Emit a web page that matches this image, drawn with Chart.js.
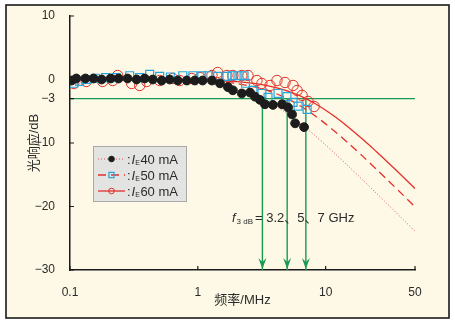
<!DOCTYPE html>
<html>
<head>
<meta charset="utf-8">
<script src="https://cdn.jsdelivr.net/npm/chart.js@4.4.0/dist/chart.umd.min.js"></script>
<style>
  html, body { margin: 0; padding: 0; background: #fff; }
  canvas { display: block; }
</style>
</head>
<body>
<canvas id="respChart" width="455" height="325"></canvas>
<script>
// axis ticks
var xTicks = [0.1, 1, 10, 50];
var yTicks = [10, 0, -3, -10, -20, -30];
var currents = [40, 50, 60];
var f3dB = [3.2, 5, 7];
var level3dB = -3;

var freq40 = [0.103, 0.112, 0.132, 0.153, 0.177, 0.208, 0.240, 0.282, 0.332, 0.384, 0.444, 0.522, 0.603, 0.697, 0.820, 0.947, 1.09, 1.29, 1.49, 1.72, 1.88, 2.21, 2.56, 2.80, 3.06, 3.35, 3.87, 4.56, 5.08, 5.46, 5.77, 6.78];
var resp40 = [-0.16, 0.16, 0.16, 0.16, 0.0, 0.16, 0.16, 0.16, 0.0, 0.16, 0.0, -0.16, 0.0, -0.16, -0.16, -0.16, -0.16, -0.16, -0.6, -1.2, -1.7, -2.2, -2.05, -2.7, -3.2, -3.9, -4.0, -3.9, -4.4, -5.5, -6.9, -7.5];

var freq50 = [0.107, 0.119, 0.134, 0.158, 0.190, 0.230, 0.293, 0.350, 0.420, 0.503, 0.610, 0.763, 0.914, 1.075, 1.198, 1.43, 1.69, 1.85, 2.06, 2.30, 2.36, 2.70, 3.17, 3.54, 4.24, 4.98, 5.56, 6.09, 7.16];
var resp50 = [-0.6, -0.3, 0.0, 0.2, 0.3, 0.3, 0.6, 0.3, 0.8, 0.5, 0.4, 0.6, 0.6, 0.6, 0.6, 0.5, 0.5, 0.6, 0.6, 0.6, -0.6, -1.7, -2.2, -2.8, -2.2, -2.7, -3.6, -4.2, -4.7];

var freq60 = [0.107, 0.134, 0.180, 0.216, 0.236, 0.304, 0.351, 0.398, 0.503, 0.637, 0.722, 0.897, 1.04, 1.29, 1.43, 1.69, 1.88, 2.21, 2.47, 2.90, 3.17, 3.67, 4.16, 4.81, 5.56, 5.98, 6.54, 7.28, 8.12];
var resp60 = [-0.63, -0.31, -0.31, -0.16, 0.63, -0.63, -0.94, -0.31, -0.16, 0.16, -0.16, 0.16, 0.31, 0.63, 1.1, 0.63, 0.63, 0.63, 0.63, -0.16, -0.63, -0.94, -0.16, -0.47, -0.94, -1.73, -2.5, -3.46, -4.25];

// fitted response curves
var fitFreq = [0.1, 0.2, 0.5, 1, 1.5, 2, 3, 4, 5, 6, 7, 8, 10, 12, 15, 20, 25, 30, 40, 50];
var fit40 = [0, -0.02, -0.10, -0.41, -0.86, -1.43, -2.74, -4.09, -5.37, -6.55, -7.62, -8.60, -10.32, -11.78, -13.61, -16.03, -17.93, -19.49, -21.97, -23.89];
var fit50 = [0, -0.01, -0.04, -0.17, -0.37, -0.64, -1.34, -2.15, -3.01, -3.87, -4.71, -5.51, -6.99, -8.30, -10.0, -12.30, -14.15, -15.68, -18.13, -20.04];
var fit60 = [0, 0, -0.02, -0.09, -0.20, -0.34, -0.73, -1.23, -1.79, -2.39, -3.01, -3.63, -4.83, -5.95, -7.48, -9.62, -11.39, -12.87, -15.27, -17.16];

var fam = "'Liberation Sans', Arial, 'Noto Sans CJK SC', sans-serif";
var txtColor = '#2b2b2b';
var green = '#1b9a52';
var red = '#e3302c';

function toPts(xs, ys) {
   var out = [];
   for (var i = 0; i < xs.length; i++) out.push({ x: xs[i], y: ys[i] });
   return out;
}

var datasets = [
   { label: 'pts40', data: toPts(freq40, resp40), pointStyle: 'circle', pointRadius: 4.4,
     backgroundColor: '#1c1c1c', borderColor: '#1c1c1c', borderWidth: 1, showLine: false },
   { label: 'pts50', data: toPts(freq50, resp50), pointStyle: 'rect', pointRadius: 5.6,
     backgroundColor: 'rgba(0,0,0,0)', borderColor: '#28a6dc', borderWidth: 1.2, showLine: false },
   { label: 'pts60', data: toPts(freq60, resp60), pointStyle: 'circle', pointRadius: 5.2,
     backgroundColor: 'rgba(0,0,0,0)', borderColor: red, borderWidth: 1, showLine: false },
   { label: 'fit40', data: toPts(fitFreq, fit40), showLine: true, pointRadius: 0,
     borderColor: '#e8505e', borderWidth: 1, borderDash: [1, 2], tension: 0.3 },
   { label: 'fit50', data: toPts(fitFreq, fit50), showLine: true, pointRadius: 0,
     borderColor: red, borderWidth: 1.3, borderDash: [8, 5], tension: 0.3 },
   { label: 'fit60', data: toPts(fitFreq, fit60), showLine: true, pointRadius: 0,
     borderColor: red, borderWidth: 1.3, tension: 0.3 },
   { label: 'line3dB', data: [{ x: xTicks[0], y: level3dB }, { x: xTicks[3], y: level3dB }],
     showLine: true, pointRadius: 0, borderColor: green, borderWidth: 1.3 }
];
f3dB.forEach(function(f) {
   datasets.push({ label: 'arrow' + f, data: [{ x: f, y: level3dB }, { x: f, y: -30 }],
      showLine: true, pointRadius: 0, borderColor: green, borderWidth: 1.4 });
});

var framePlugin = {
   id: 'frame',
   beforeDraw: function(chart) {
      var c = chart.ctx;
      c.save();
      c.fillStyle = '#ffffff';
      c.fillRect(0, 0, chart.width, chart.height);
      c.fillStyle = '#fdf9e6';
      c.fillRect(6, 5, 443, 313);
      c.lineWidth = 1.6;
      c.strokeStyle = '#1a1a1a';
      c.strokeRect(6, 5, 443, 313);
      c.restore();
   }
};

var extrasPlugin = {
   id: 'extras',
   afterDraw: function(chart) {
      var c = chart.ctx, xs = chart.scales.x, ys = chart.scales.y, a = chart.chartArea;
      c.save();
      // inward tick marks
      c.strokeStyle = '#1a1a1a';
      c.lineWidth = 1.2;
      c.beginPath();
      xTicks.forEach(function(v) {
         var px = xs.getPixelForValue(v);
         c.moveTo(px, a.bottom); c.lineTo(px, a.bottom - 4);
      });
      yTicks.forEach(function(v) {
         var py = ys.getPixelForValue(v);
         c.moveTo(a.left, py); c.lineTo(a.left + 4, py);
      });
      c.stroke();

      // arrow heads
      c.fillStyle = green;
      f3dB.forEach(function(f) {
         var px = xs.getPixelForValue(f), py = ys.getPixelForValue(-30) - 1;
         c.beginPath();
         c.moveTo(px, py);
         c.lineTo(px - 4, py - 11);
         c.lineTo(px, py - 7);
         c.lineTo(px + 4, py - 11);
         c.closePath();
         c.fill();
      });

      // f3dB note
      c.fillStyle = txtColor;
      c.textBaseline = 'alphabetic';
      var tx = 232, ty = 222;
      c.font = 'italic 13px ' + fam;
      c.fillText('f', tx, ty);
      tx += c.measureText('f').width + 1;
      c.font = '8px ' + fam;
      c.fillText('3 dB', tx, ty + 2);
      tx += c.measureText('3 dB').width + 2;
      c.font = '13px ' + fam;
      c.fillText('= 3.2\u30015\u30017 GHz', tx, ty);

      // legend box
      var bx = 93, by = 146, bw = 93, bh = 55;
      c.fillStyle = '#e3e3e1';
      c.fillRect(bx, by, bw, bh);
      c.strokeStyle = '#a9a9a9';
      c.lineWidth = 1;
      c.strokeRect(bx + 0.5, by + 0.5, bw, bh);
      for (var i = 0; i < currents.length; i++) {
         var pt = chart.data.datasets[i];
         var ln = chart.data.datasets[i + 3];
         var ly = by + 13 + i * 16;
         c.save();
         c.strokeStyle = ln.borderColor;
         c.lineWidth = ln.borderWidth;
         c.setLineDash(ln.borderDash || []);
         c.beginPath();
         c.moveTo(98, ly); c.lineTo(125, ly);
         c.stroke();
         c.restore();
         c.fillStyle = pt.backgroundColor;
         c.strokeStyle = pt.borderColor;
         c.lineWidth = pt.borderWidth;
         Chart.helpers.drawPoint(c, { pointStyle: pt.pointStyle, radius: pt.pointStyle === 'rect' ? 3.6 : 2.8,
            borderWidth: pt.borderWidth, rotation: 0 }, 111.5, ly);
         c.fillStyle = txtColor;
         var lx = 127;
         c.font = '13px ' + fam;
         c.fillText(':', lx, ly + 5);
         lx += c.measureText(':').width + 1;
         c.font = 'italic 13px ' + fam;
         c.fillText('I', lx, ly + 5);
         lx += c.measureText('I').width;
         c.font = '7px ' + fam;
         c.fillText('E', lx, ly + 6);
         lx += c.measureText('E').width + 0.5;
         c.font = '13px ' + fam;
         c.fillText(currents[i] + ' mA', lx, ly + 5);
      }
      c.restore();
   }
};

new Chart(document.getElementById('respChart'), {
   type: 'scatter',
   data: { datasets: datasets },
   options: {
      responsive: false,
      animation: false,
      events: [],
      layout: { padding: { left: 21, right: 40, top: 16, bottom: 13 } },
      plugins: { legend: { display: false }, tooltip: { enabled: false } },
      scales: {
         x: {
            type: 'logarithmic',
            min: 0.1,
            max: 50,
            afterBuildTicks: function(s) { s.ticks = xTicks.map(function(v) { return { value: v }; }); },
            afterFit: function(s) { s.height = 42; },
            grid: { display: false },
            border: { display: true, color: '#1a1a1a', width: 1.5 },
            ticks: { autoSkip: false, maxRotation: 0, padding: 7, color: txtColor,
               font: { family: fam, size: 12 },
               callback: function(v) { return String(v); } },
            title: { display: true, text: '频率/MHz', color: txtColor,
               font: { family: fam, size: 13 }, padding: { top: 0, bottom: 4 } }
         },
         y: {
            min: -30,
            max: 10,
            afterBuildTicks: function(s) { s.ticks = yTicks.map(function(v) { return { value: v }; }); },
            afterFit: function(s) { s.width = 49; },
            grid: { display: false },
            border: { display: true, color: '#1a1a1a', width: 1.5 },
            ticks: { autoSkip: false, padding: 7, color: txtColor,
               font: { family: fam, size: 12 },
               callback: function(v) { return v < 0 ? '\u2212' + Math.abs(v) : String(v); } },
            title: { display: true, text: '光响应/dB', color: txtColor,
               font: { family: fam, size: 13 }, padding: { top: 6, bottom: 0 } }
         }
      }
   },
   plugins: [framePlugin, extrasPlugin]
});
</script>
</body>
</html>
